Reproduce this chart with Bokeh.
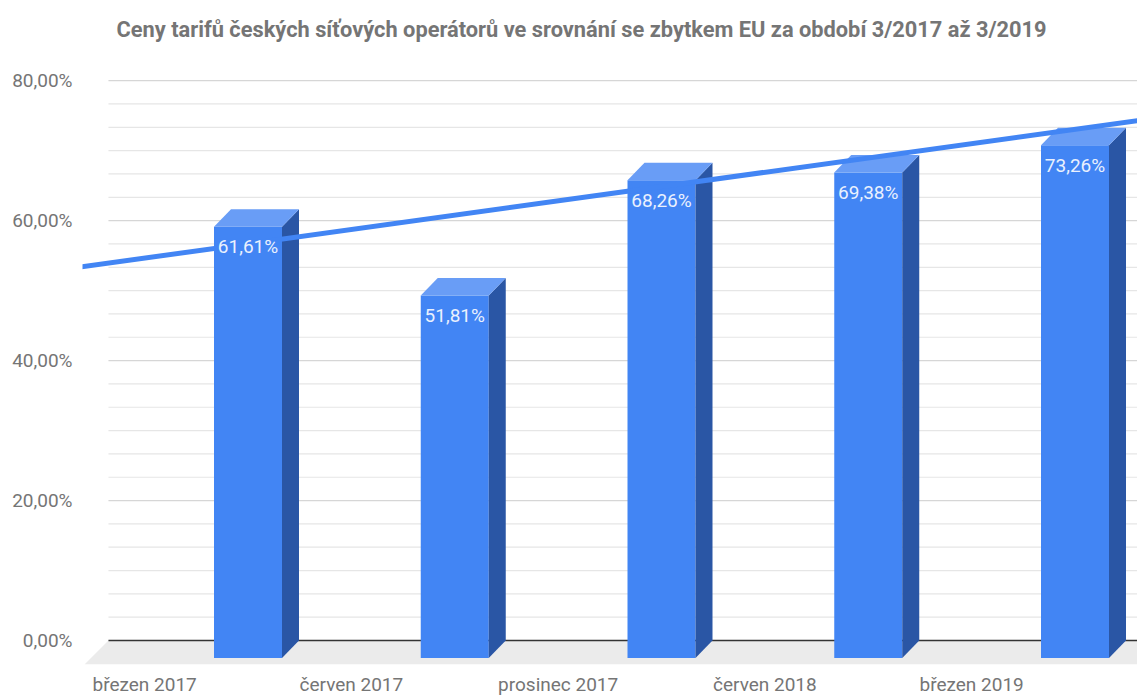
import numpy as np
from bokeh.plotting import figure
from bokeh.models import Range1d, FixedTicker, ColumnDataSource
from bokeh.core.properties import value
from bokeh.embed import file_html
from bokeh.resources import INLINE

# ---- data ----
categories = ["březen 2017", "červen 2017", "prosinec 2017", "červen 2018", "březen 2019"]
values = [61.61, 51.81, 68.26, 69.38, 73.26]
y_ticks = [0, 20, 40, 60, 80]
y_tick_labels = ["0,00%", "20,00%", "40,00%", "60,00%", "80,00%"]
title_text = "Ceny tarifů českých síťových operátorů ve srovnání se zbytkem EU za období 3/2017 až 3/2019"

# ---- geometry (pixels -> data units) ----
W, H = 1137, 698
LEFT_B, TOP_B, BOTTOM_B = 82, 46, 33
BASE_PX = 641          # pixel row of the 0 % line on the back wall
PX_PER_CAT = 206.75
PX_PER_PCT = 7.01
BAR_W = 68 / PX_PER_CAT
DEPTH_X = 17 / PX_PER_CAT
DEPTH_Y = 17.5 / PX_PER_PCT
FLOOR_DX = 24 / PX_PER_CAT
FLOOR_DY = 24 / PX_PER_PCT
WALL_LEFT = -0.675
LABEL_DROP = 20 / PX_PER_PCT

X0 = -0.8005
X1 = X0 + (W - LEFT_B) / PX_PER_CAT
Y1 = (BASE_PX - TOP_B) / PX_PER_PCT
Y0 = Y1 - (H - TOP_B - BOTTOM_B) / PX_PER_PCT

FONT = "Roboto"
GREY = "#757575"
FRONT = "#4285F4"
SIDE = "#2A56A5"
TOP = "#699DF6"

p = figure(width=W, height=H, x_range=Range1d(X0, X1), y_range=Range1d(Y0, Y1),
           output_backend="svg", toolbar_location=None,
           min_border_left=LEFT_B, min_border_right=0, min_border_top=TOP_B,
           min_border_bottom=BOTTOM_B)
p.outline_line_color = None
p.xgrid.visible = False
p.ygrid.visible = False
p.background_fill_color = "white"

# title
p.title.text = title_text
p.title.align = "left"
p.title.offset = 34
p.title.standoff = 10
p.title.text_font = FONT
p.title.text_font_style = "bold"
p.title.text_font_size = "21.8px"
p.title.text_color = GREY

# floor
p.patch([WALL_LEFT, X1 + 1, X1 + 1, WALL_LEFT - FLOOR_DX], [0, 0, -FLOOR_DY, -FLOOR_DY],
        fill_color="#ebebeb", line_color=None)

# back wall gridlines
grid_vals = [y_ticks[0] + k * (y_ticks[1] - y_ticks[0]) / 6 for k in range(6 * (len(y_ticks) - 1) + 1)]
minor = [g for g in grid_vals if all(abs(g - t) > 1e-6 for t in y_ticks)]
major = [t for t in y_ticks if t != 0]
p.segment(x0=[WALL_LEFT] * len(minor), y0=minor, x1=[X1 + 1] * len(minor), y1=minor,
          line_color="#e6e6e6", line_width=1.2)
p.segment(x0=[WALL_LEFT] * len(major), y0=major, x1=[X1 + 1] * len(major), y1=major,
          line_color="#d6d6d6", line_width=1.2)
p.segment(x0=[WALL_LEFT], y0=[0], x1=[X1 + 1], y1=[0], line_color="#333333", line_width=1.5)

# bars
xs = np.arange(len(values), dtype=float)
vals = np.array(values)
p.quad(left=xs - BAR_W / 2, right=xs + BAR_W / 2, bottom=-DEPTH_Y, top=vals - DEPTH_Y,
       fill_color=FRONT, line_color=None)
side_xs = [[x + BAR_W / 2, x + BAR_W / 2, x + BAR_W / 2 + DEPTH_X, x + BAR_W / 2 + DEPTH_X] for x in xs]
side_ys = [[-DEPTH_Y, v - DEPTH_Y, v, 0] for v in vals]
p.patches(side_xs, side_ys, fill_color=SIDE, line_color=None)
top_xs = [[x - BAR_W / 2, x + BAR_W / 2, x + BAR_W / 2 + DEPTH_X, x - BAR_W / 2 + DEPTH_X] for x in xs]
top_ys = [[v - DEPTH_Y, v - DEPTH_Y, v, v] for v in vals]
p.patches(top_xs, top_ys, fill_color=TOP, line_color=None)

# linear trendline
slope, intercept = np.polyfit(xs, vals, 1)
tx = np.array([X0 - 0.05, X1 + 0.1])
p.line(tx, intercept + slope * tx, line_color=FRONT, line_width=5)

# value labels
labels = [f"{v:.2f}".replace(".", ",") + "%" for v in values]
src = ColumnDataSource(dict(x=xs, y=vals - DEPTH_Y - LABEL_DROP, t=labels))
p.text(x="x", y="y", text="t", source=src, text_align="center", text_baseline="middle",
       text_font=value(FONT), text_font_size="19px", text_color="#eaf1fe")

# axes
p.yaxis.ticker = FixedTicker(ticks=y_ticks)
p.yaxis.major_label_overrides = {t: l for t, l in zip(y_ticks, y_tick_labels)}
p.xaxis.ticker = FixedTicker(ticks=[i - 0.5 for i in range(len(categories))])
p.xaxis.major_label_overrides = {i - 0.5: c for i, c in enumerate(categories)}
for ax in (p.xaxis[0], p.yaxis[0]):
    ax.axis_line_color = None
    ax.major_tick_line_color = None
    ax.minor_tick_line_color = None
    ax.major_tick_out = 0
    ax.major_tick_in = 0
    ax.major_label_text_font = FONT
    ax.major_label_text_font_size = "19px"
    ax.major_label_text_color = GREY
p.xaxis.major_label_standoff = 8
p.yaxis.major_label_standoff = 10

open("out.html", "w").write(file_html(p, INLINE))
